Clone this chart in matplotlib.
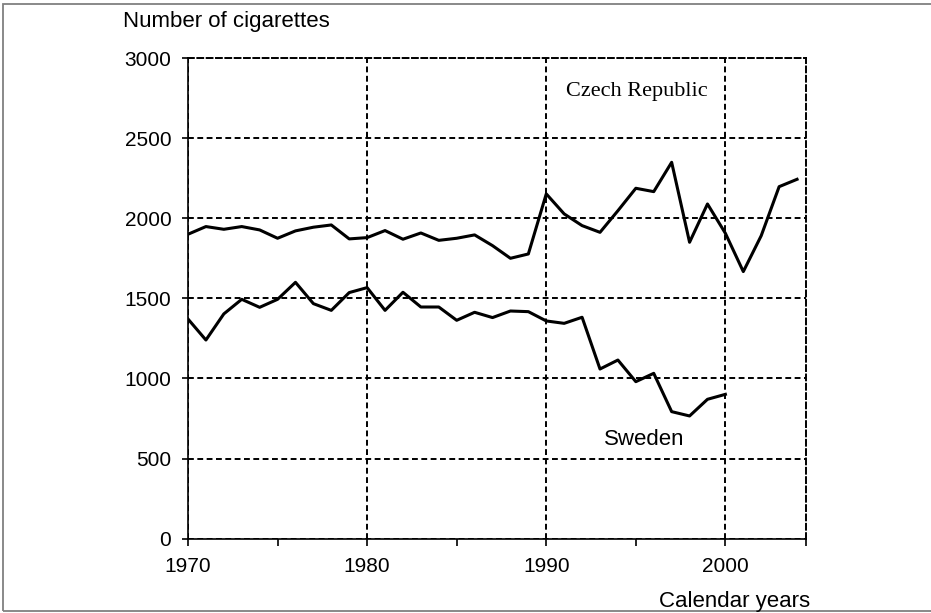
import numpy as np
import matplotlib
matplotlib.use("Agg")
import matplotlib.pyplot as plt
from matplotlib.patches import Rectangle

# cigarettes per adult per year
czech_years = list(range(1970, 2005))
czech = [1900, 1948, 1931, 1948, 1927, 1875, 1921, 1944, 1958, 1871,
         1879, 1923, 1869, 1908, 1862, 1875, 1896, 1829, 1750, 1777,
         2152, 2027, 1954, 1912, 2047, 2187, 2166, 2349, 1850, 2089,
         1906, 1667, 1891, 2197, 2243]

sweden_years = list(range(1970, 2001))
sweden = [1371, 1240, 1403, 1494, 1444, 1494, 1600, 1467, 1425, 1536,
          1567, 1425, 1538, 1446, 1446, 1363, 1413, 1380, 1421, 1417,
          1359, 1344, 1382, 1059, 1115, 980, 1032, 793, 766, 870, 901]

major_years = [1970, 1980, 1990, 2000]
minor_years = [1975, 1985, 1995, 2004.5]
y_ticks = [0, 500, 1000, 1500, 2000, 2500, 3000]

plt.rcParams['font.family'] = ['Liberation Sans', 'DejaVu Sans']

fig = plt.figure(figsize=(9.31, 6.13), dpi=100)
ax = fig.add_axes([188 / 931, 1 - 538.7 / 613, (806 - 188) / 931, (538.7 - 58) / 613])

dash = (0, (3, 1.8))
ax.plot(czech_years, czech, color='black', lw=2.2, zorder=3)
ax.plot(sweden_years, sweden, color='black', lw=2.2, zorder=3)

ax.set_xlim(1970, 2004.5)
ax.set_ylim(0, 3000)
ax.set_xticks(major_years)
ax.set_xticks(minor_years, minor=True)
ax.set_yticks(y_ticks)
ax.grid(True, which='major', color='black', lw=1.4, linestyle=dash)

for side in ['top', 'right']:
    ax.spines[side].set_linestyle(dash)
    ax.spines[side].set_linewidth(1.4)
for side in ['left', 'bottom']:
    ax.spines[side].set_linewidth(1.2)

ax.tick_params(axis='x', which='both', direction='out', length=5, width=1.2, pad=8, labelsize=15)
ax.tick_params(axis='y', direction='out', length=4, width=1.2, pad=8, labelsize=15)

ax.text(1991.1, 2788, 'Czech Republic', family='Liberation Serif', fontsize=16,
        ha='left', va='center')
ax.text(1993.2, 616, 'Sweden', fontsize=16, ha='left', va='center')

fig.text(123 / 931, 1 - 22 / 613, 'Number of cigarettes', fontsize=16, ha='left', va='center')
fig.text(810 / 931, 1 - 601 / 613, 'Calendar years', fontsize=16, ha='right', va='center')

fig.patches.append(Rectangle((3 / 931, 2 / 613), 1.0, 1 - 6 / 613, transform=fig.transFigure,
                             fill=False, edgecolor='#808080', lw=1.3))

fig.savefig('out.png', dpi=100)
